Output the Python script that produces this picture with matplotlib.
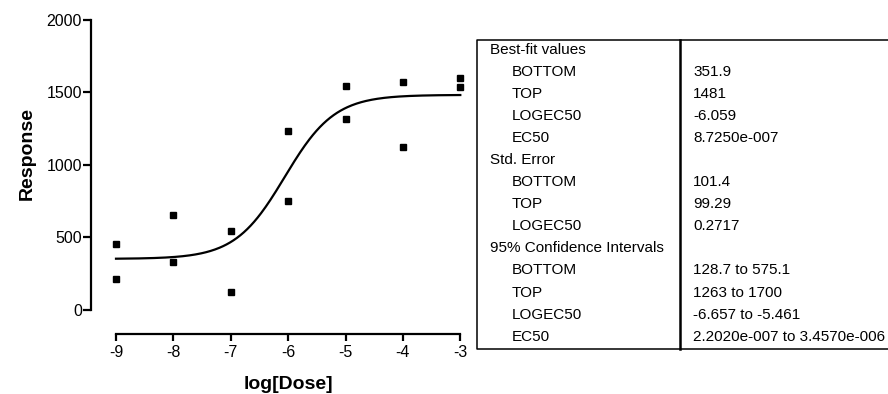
import numpy as np
import matplotlib
matplotlib.use("Agg")
import matplotlib.pyplot as plt

plt.rcParams['font.family'] = ['Liberation Sans', 'DejaVu Sans']

# replicate measurements at each dose
log_dose = [-9, -9, -8, -8, -7, -7, -6, -6, -5, -5, -4, -4, -3, -3]
response = [452, 211, 654, 331, 546, 126, 1233, 753, 1545, 1315, 1568, 1123, 1598, 1534]

# fit parameters (sigmoidal dose-response, hill slope 1)
bottom = 351.9
top = 1481
logec50 = -6.059

row_labels = ["Best-fit values", "BOTTOM", "TOP", "LOGEC50", "EC50",
              "Std. Error", "BOTTOM", "TOP", "LOGEC50",
              "95% Confidence Intervals", "BOTTOM", "TOP", "LOGEC50", "EC50"]
row_values = ["", "351.9", "1481", "-6.059", "8.7250e-007",
              "", "101.4", "99.29", "0.2717",
              "", "128.7 to 575.1", "1263 to 1700", "-6.657 to -5.461",
              "2.2020e-007 to 3.4570e-006"]
is_header = [True, False, False, False, False, True, False, False, False,
             True, False, False, False, False]

W, H = 888, 394
fig = plt.figure(figsize=(W / 100, H / 100), dpi=100)

ax = fig.add_axes([116 / W, 1 - 310 / H, 344.3 / W, 290.5 / H])
xs = np.linspace(-9, -3, 300)
ys = bottom + (top - bottom) / (1 + 10 ** (logec50 - xs))
ax.plot(xs, ys, color='black', lw=1.6, clip_on=False)
ax.plot(log_dose, response, 's', color='black', ms=4.6, clip_on=False)

ax.set_xlim(-9, -3)
ax.set_ylim(0, 2000)
ax.set_xticks(range(-9, -2))
ax.set_xticklabels([str(v) for v in range(-9, -2)])
ax.set_yticks([0, 500, 1000, 1500, 2000])
for s in ['top', 'right']:
    ax.spines[s].set_visible(False)
ax.spines['left'].set_position(('outward', 18))
ax.spines['bottom'].set_position(('outward', 17.5))
ax.spines['left'].set_linewidth(1.6)
ax.spines['bottom'].set_linewidth(1.6)
ax.tick_params(axis='y', length=5.5, width=1.6, labelsize=11.5, pad=1)
ax.tick_params(axis='x', length=5, width=1.6, labelsize=11.5, pad=3)
ax.set_xlabel("log[Dose]", fontsize=14, fontweight='bold', labelpad=11)
ax.set_ylabel("Response", fontsize=14, fontweight='bold', labelpad=8, y=0.54)

# results table
tx = fig.add_axes([0, 0, 1, 1])
tx.set_xlim(0, W)
tx.set_ylim(H, 0)
tx.axis('off')
tx.plot([888, 477, 477, 888], [40, 40, 349, 349], color='black', lw=1.1)
tx.plot([680, 680], [40, 349], color='black', lw=1.8)
for i, (lab, val, hdr) in enumerate(zip(row_labels, row_values, is_header)):
    y = 49.5 + 22.1 * i
    tx.text(490 if hdr else 512, y, lab, fontsize=11, va='center', ha='left')
    if val:
        tx.text(693, y, val, fontsize=11, va='center', ha='left')

fig.savefig("out.png", dpi=100)
